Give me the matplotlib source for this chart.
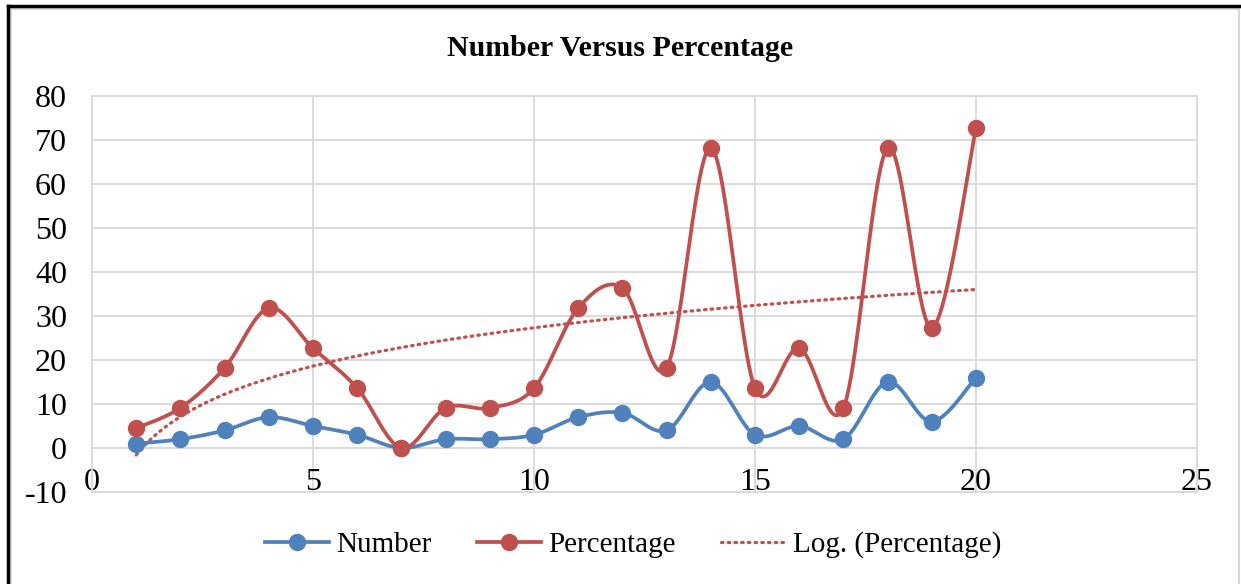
import numpy as np
import matplotlib.pyplot as plt
from matplotlib.lines import Line2D
from matplotlib.patches import Rectangle

plt.rcParams['font.family'] = ['Liberation Serif', 'DejaVu Serif']
plt.rcParams['axes.unicode_minus'] = False

# Data
x_vals = [1, 2, 3, 4, 5, 6, 7, 8, 9, 10, 11, 12, 13, 14, 15, 16, 17, 18, 19, 20]
number = [1, 2, 4, 7, 5, 3, 0, 2, 2, 3, 7, 8, 4, 15, 3, 5, 2, 15, 6, 16]
percentage = [4.5, 9.1, 18.2, 31.8, 22.7, 13.6, 0, 9.1, 9.1, 13.6,
              31.8, 36.4, 18.2, 68.2, 13.6, 22.7, 9.1, 68.2, 27.3, 72.7]

blue = '#4F81BD'
red = '#C0504D'


def smooth(xs, ys, n=30):
    # Excel-like smoothing (Catmull-Rom through bezier control points)
    xs = np.asarray(xs, float)
    ys = np.asarray(ys, float)
    px = np.concatenate([[xs[0]], xs, [xs[-1]]])
    py = np.concatenate([[ys[0]], ys, [ys[-1]]])
    outx, outy = [], []
    t = np.linspace(0, 1, n)
    for i in range(1, len(px) - 2):
        p0 = np.array([px[i], py[i]])
        p3 = np.array([px[i + 1], py[i + 1]])
        p1 = p0 + (np.array([px[i + 1], py[i + 1]]) - np.array([px[i - 1], py[i - 1]])) / 6
        p2 = p3 - (np.array([px[i + 2], py[i + 2]]) - np.array([px[i], py[i]])) / 6
        b = ((1 - t) ** 3)[:, None] * p0 + (3 * (1 - t) ** 2 * t)[:, None] * p1 \
            + (3 * (1 - t) * t ** 2)[:, None] * p2 + (t ** 3)[:, None] * p3
        outx.extend(b[:, 0])
        outy.extend(b[:, 1])
    return outx, outy


W, H = 1241, 584
fig = plt.figure(figsize=(W / 100, H / 100), dpi=100)
ax = fig.add_axes([92 / W, 1 - 492 / H, (1197 - 92) / W, (492 - 96) / H])

# chart frame: grey border plus black top/left edge
fig.patches.append(Rectangle((11 / W, -0.05), (1239 - 11) / W, 1 - 9 / H + 0.05,
                             transform=fig.transFigure, fill=False,
                             edgecolor='#D9D9D9', linewidth=1.5))
fig.lines.append(Line2D([8 / W, 1], [1 - 6 / H, 1 - 6 / H], transform=fig.transFigure,
                        color='black', linewidth=2.5))
fig.lines.append(Line2D([8 / W, 8 / W], [0, 1 - 6 / H], transform=fig.transFigure,
                        color='black', linewidth=2.5))

lw = 2.7
ms = 11.5
sx, sy = smooth(x_vals, number)
ax.plot(sx, sy, color=blue, linewidth=lw, zorder=3)
ax.plot(x_vals, number, 'o', color=blue, markersize=ms, zorder=4)

sx, sy = smooth(x_vals, percentage)
ax.plot(sx, sy, color=red, linewidth=lw, zorder=3)
ax.plot(x_vals, percentage, 'o', color=red, markersize=ms, zorder=4)

# logarithmic trendline
lx = np.log(np.array(x_vals, float))
a, b = np.polyfit(lx, percentage, 1)
tx = np.linspace(1, 20, 200)
dots = (0, (0.5, 1.6))
ax.plot(tx, a * np.log(tx) + b, color=red, linewidth=2.3, linestyle=dots,
        dash_capstyle='round', zorder=2)

ax.set_xlim(0, 25)
ax.set_ylim(-10, 80)
ax.set_yticks(range(-10, 81, 10))
ax.set_xticks(range(0, 26, 5))
ax.grid(True, color='#D9D9D9', linewidth=1.3)
ax.axhline(0, color='#D9D9D9', linewidth=1.3, zorder=1)
for s in ax.spines.values():
    s.set_color('#D9D9D9')
    s.set_linewidth(1.3)
ax.tick_params(length=0, labelsize=23)
ax.tick_params(axis='y', pad=18)
ax.tick_params(axis='x', pad=-17)

fig.text(0.5, 1 - 48 / H, 'Number Versus Percentage', fontsize=21.5, fontweight='bold',
         ha='center', va='center')

handles = [
    Line2D([], [], color=blue, linewidth=lw, marker='o', markersize=ms),
    Line2D([], [], color=red, linewidth=lw, marker='o', markersize=ms),
    Line2D([], [], color=red, linewidth=2.3, linestyle=dots, dash_capstyle='round'),
]
fig.legend(handles, ['Number', 'Percentage', 'Log. (Percentage)'], loc='center',
           bbox_to_anchor=(633 / W, 1 - 545 / H), ncol=3, frameon=False, fontsize=21,
           handlelength=2.2, handletextpad=0.25, columnspacing=1.55)

fig.savefig('out.png', dpi=100)
